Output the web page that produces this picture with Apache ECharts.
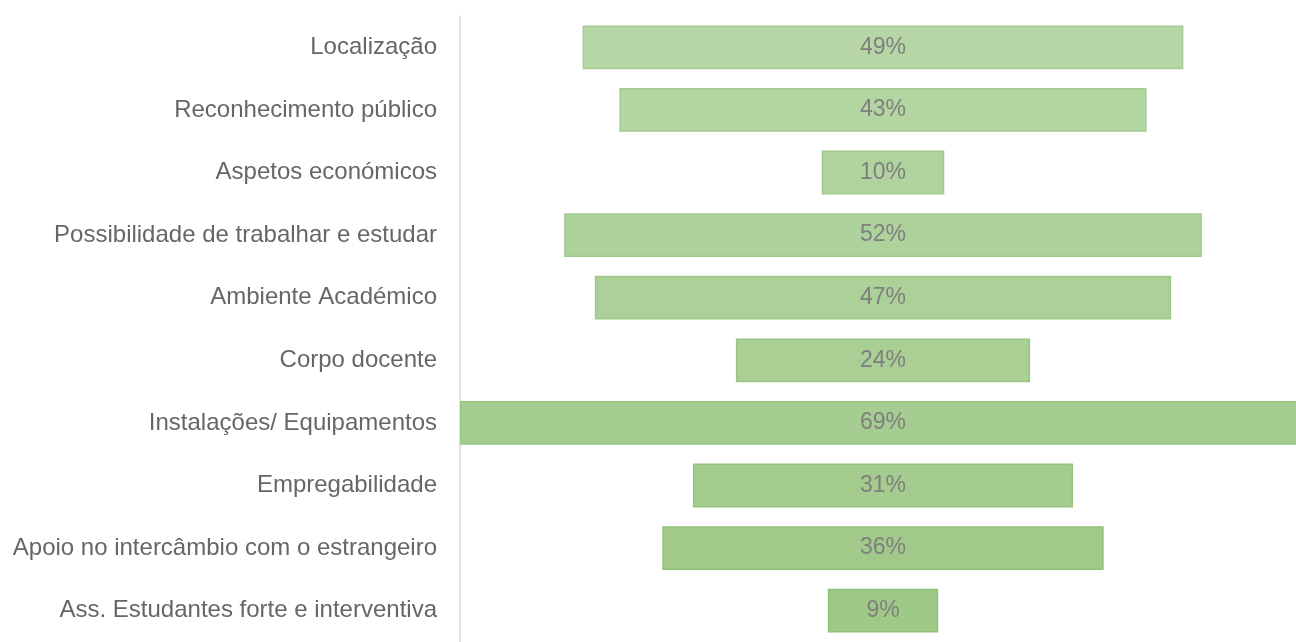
<!DOCTYPE html>
<html>
<head>
<meta charset="utf-8">
<script src="https://cdn.jsdelivr.net/npm/echarts@6/dist/echarts.min.js"></script>
<style>
	html, body { margin: 0; padding: 0; background: #fff; }
	#main { width: 1296px; height: 642px; }
</style>
</head>
<body>
<div id="main"></div>
<script>
var categories = [
	'Localização',
	'Reconhecimento público',
	'Aspetos económicos',
	'Possibilidade de trabalhar e estudar',
	'Ambiente Académico',
	'Corpo docente',
	'Instalações/ Equipamentos',
	'Empregabilidade',
	'Apoio no intercâmbio com o estrangeiro',
	'Ass. Estudantes forte e interventiva'
];
var values = [49, 43, 10, 52, 47, 24, 69, 31, 36, 9];

var maxVal = Math.max.apply(null, values);
// a barra maior sai um pouco fora da área do gráfico (cortada à direita)
var axisMax = maxVal * 836 / 846;

// cor vai escurecendo de cima para baixo
function mix(a, b, t) {
	var c = [];
	for (var i = 0; i < 3; i++) c.push(Math.round(a[i] + (b[i] - a[i]) * t));
	return 'rgb(' + c.join(',') + ')';
}

var offsets = values.map(function (v) { return (maxVal - v) / 2; });
var bars = values.map(function (v, i) {
	var t = i / (values.length - 1);
	return {
		value: v,
		itemStyle: {
			color: mix([182, 214, 165], [158, 201, 135], t),
			borderColor: mix([166, 205, 145], [145, 193, 120], t),
			borderWidth: 1.5
		}
	};
});

var myChart = echarts.init(document.getElementById('main'));
var option = {
	animation: false,
	grid: { left: 460, top: 16, right: 0, bottom: -11 },
	xAxis: {
		type: 'value',
		min: 0,
		max: axisMax,
		show: false
	},
	yAxis: {
		type: 'category',
		data: categories,
		inverse: true,
		axisLine: { show: true, lineStyle: { color: '#d9d9d9', width: 1.5 } },
		axisTick: { show: false },
		axisLabel: {
			margin: 23,
			color: '#666666',
			fontSize: 24,
			fontFamily: 'Liberation Sans'
		}
	},
	series: [{
		type: 'bar',
		stack: 'funil',
		data: offsets,
		itemStyle: { color: 'transparent' },
		silent: true
	}, {
		type: 'bar',
		stack: 'funil',
		barWidth: '70%',
		clip: false,
		data: bars,
		label: {
			show: true,
			position: 'inside',
			formatter: '{c}%',
			color: '#7f7f7f',
			fontSize: 23,
			fontFamily: 'Liberation Sans'
		}
	}]
};
myChart.setOption(option);
</script>
</body>
</html>
